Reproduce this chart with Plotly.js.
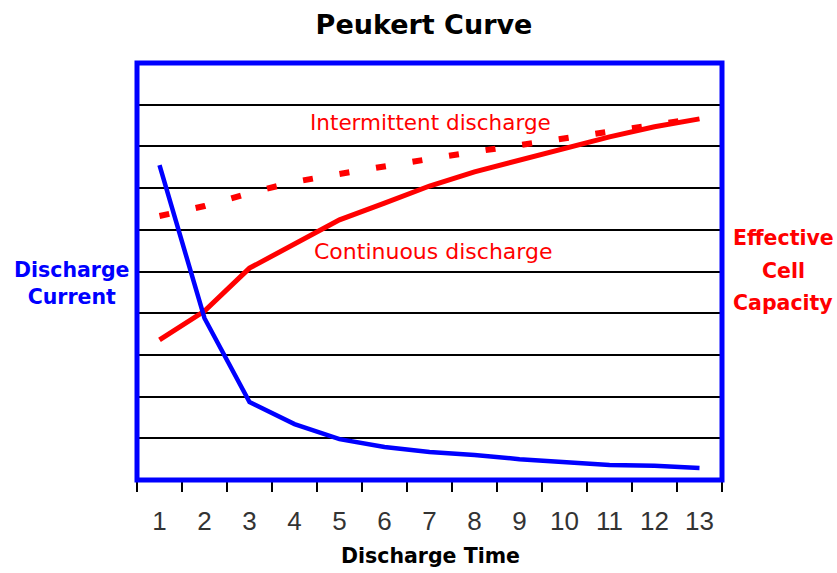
<!DOCTYPE html>
<html>
<head>
<meta charset="utf-8">
<script src="https://cdn.plot.ly/plotly-3.0.1.min.js"></script>
<style>html,body{margin:0;padding:0;background:#fff;}#chart{width:837px;height:573px;}</style>
</head>
<body>
<div id="chart"></div>
<script>
const categories = ['1','2','3','4','5','6','7','8','9','10','11','12','13'];
const dischargeCurrent = [7.55, 3.88, 1.87, 1.34, 0.98, 0.79, 0.67, 0.60, 0.50, 0.43, 0.36, 0.34, 0.29];
const continuousCapacity = [3.36, 4.05, 5.08, 5.67, 6.24, 6.64, 7.05, 7.39, 7.67, 7.94, 8.23, 8.47, 8.66];
const intermittentCapacity = [6.33, 6.57, 6.88, 7.15, 7.34, 7.53, 7.70, 7.87, 8.03, 8.20, 8.35, 8.51, 8.68];
const rightLabelLines = ['Effective', 'Cell', 'Capacity'];

const DV = 'DejaVu Sans, Verdana, sans-serif';
const traces = [
  {x: categories, y: intermittentCapacity, type: 'scatter', mode: 'lines',
   line: {color: '#ff0000', width: 6, dash: '10px,27px'}, hoverinfo: 'skip'},
  {x: categories, y: continuousCapacity, type: 'scatter', mode: 'lines',
   line: {color: '#ff0000', width: 5}, hoverinfo: 'skip'},
  {x: categories, y: dischargeCurrent, type: 'scatter', mode: 'lines',
   line: {color: '#0000ff', width: 4.5}, hoverinfo: 'skip'}
];

const rightAnnotations = rightLabelLines.map((t, i) => ({
  text: '<b>' + t + '</b>', xref: 'paper', yref: 'paper', x: (783-137)/585, y: (480-(238 + 32.5*i))/417,
  showarrow: false, xanchor: 'center', yanchor: 'middle',
  font: {size: 20.5, color: '#ff0000', family: DV}
}));

const layout = {
  width: 837, height: 573,
  margin: {l: 137, r: 115, t: 63, b: 93},
  paper_bgcolor: '#ffffff', plot_bgcolor: '#ffffff',
  showlegend: false,
  font: {family: 'Liberation Sans, Arial, sans-serif'},
  title: {text: '<b>Peukert Curve</b>', x: 424/837, xref: 'container', xanchor: 'center',
          y: 1 - 25/573, yref: 'container', yanchor: 'middle',
          font: {size: 27, color: '#000', family: DV}},
  xaxis: {type: 'category', range: [-0.5, 12.5], tickson: 'boundaries', ticks: 'outside',
          ticklen: 10, tickwidth: 2, tickcolor: '#000', showgrid: false, zeroline: false,
          showline: true, linecolor: '#000', linewidth: 2,
          tickfont: {size: 26, color: '#333', family: 'Liberation Sans, Arial, sans-serif'},
          ticklabelstandoff: 17, fixedrange: true},
  yaxis: {range: [0, 10], dtick: 1, showgrid: true, gridcolor: '#000', gridwidth: 2,
          showticklabels: false, ticks: '', zeroline: false, showline: false, fixedrange: true},
  shapes: [
    {type: 'rect', xref: 'paper', yref: 'paper', x0: 0, x1: 1, y0: 0, y1: 1,
     line: {color: '#0000ff', width: 5}, layer: 'above'}
  ],
  annotations: [
    {text: 'Intermittent discharge', xref: 'paper', yref: 'paper', x: (430-137)/585, y: (480-122)/417,
     showarrow: false, xanchor: 'center', yanchor: 'middle', font: {size: 21.5, color: '#ff0000', family: DV}},
    {text: 'Continuous discharge', xref: 'paper', yref: 'paper', x: (433-137)/585, y: (480-251)/417,
     showarrow: false, xanchor: 'center', yanchor: 'middle', font: {size: 22, color: '#ff0000', family: DV}},
    {text: '<b>Discharge Time</b>', xref: 'paper', yref: 'paper', x: (430-137)/585, y: (480-556)/417,
     showarrow: false, xanchor: 'center', yanchor: 'middle', font: {size: 20.5, color: '#000', family: DV}},
    {text: '<b>Discharge<br>Current</b>', xref: 'paper', yref: 'paper', x: (72-137)/585, y: (480-283)/417,
     showarrow: false, xanchor: 'center', yanchor: 'middle', align: 'center',
     font: {size: 20.5, color: '#0000ff', family: DV}}
  ].concat(rightAnnotations)
};

Plotly.newPlot('chart', traces, layout, {displayModeBar: false, staticPlot: true});
</script>
</body>
</html>
